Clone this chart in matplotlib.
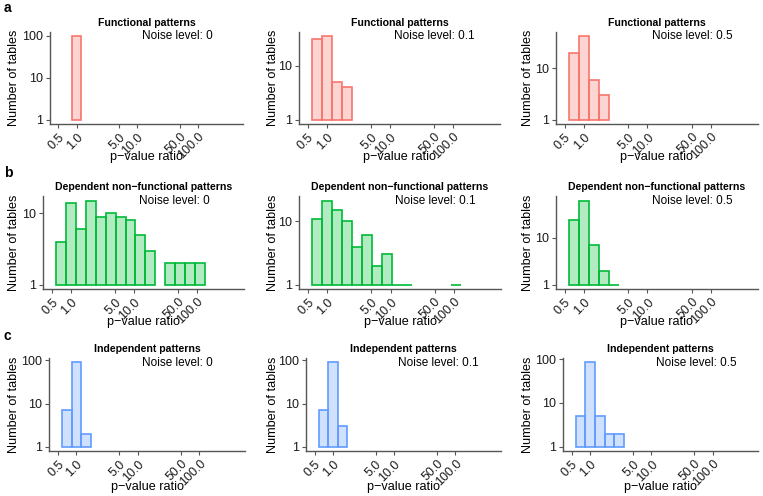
import matplotlib
matplotlib.use("Agg")
import matplotlib.pyplot as plt
import numpy as np

plt.rcParams['font.family'] = ['Liberation Sans', 'DejaVu Sans']

# histogram bins are equal steps in log10(p-value ratio), bin k is centred at k*bin_width
bin_width = 0.157

noise_levels = ["0", "0.1", "0.5"]
row_titles = ["Functional patterns", "Dependent non\u2212functional patterns", "Independent patterns"]
row_letters = ["a", "b", "c"]
row_colors = ["#F8766D", "#00BA38", "#619CFF"]

# first bin index and counts per bin (0 = empty bin)
func_first = [0, -1, -1]
func_counts = [[100],
               [32, 36, 5, 4],
               [20, 43, 6, 3]]

dep_first = [-1, -1, -1]
dep_counts = [[4, 14, 6, 15, 9, 10, 9, 8, 5, 3, 0, 2, 2, 2, 2],
              [11, 21, 15, 10, 4, 6, 2, 3, 1, 1, 0, 0, 0, 0, 1],
              [23, 60, 7, 2, 1]]

ind_first = [-1, -1, -1]
ind_counts = [[7, 90, 2],
              [7, 90, 3],
              [5, 85, 5, 2, 2]]

xticks = [0.5, 1, 5, 10, 50, 100]
xtick_labels = ["0.5", "1.0", "5.0", "10.0", "50.0", "100.0"]

firsts = [func_first, dep_first, ind_first]
counts = [func_counts, dep_counts, ind_counts]

W, H = 763, 496
fig = plt.figure(figsize=(W / 100, H / 100), dpi=100)

# panel boxes in pixels: (left, right) per column, (top, bottom) per row
cols = [[(50, 243), (299, 500), (556, 758)],
        [(43.3, 244), (299.3, 500.7), (556, 758)],
        [(49.3, 245), (306, 500.7), (563.3, 758)]]
rows = [(31.7, 124), (196.5, 289), (358, 451)]
ylab_x = [14, 272.7, 528.3]
xlab_off = [33, 33, 36]
letter_y = [8.5, 173, 336]

for r in range(3):
    top, bottom = rows[r]
    color = row_colors[r]
    fig.text(4 / W, 1 - letter_y[r] / H, row_letters[r], fontsize=10,
             fontweight='bold', ha='left', va='center')
    for c in range(3):
        left, right = cols[r][c]
        ax = fig.add_axes([left / W, 1 - bottom / H, (right - left) / W, (bottom - top) / H])
        n = np.array(counts[r][c], dtype=float)
        k = firsts[r][c] + np.arange(len(n))
        lo = 10 ** ((k - 0.5) * bin_width)
        hi = 10 ** ((k + 0.5) * bin_width)
        keep = n > 0
        ax.bar(lo[keep], n[keep] - 1, width=(hi - lo)[keep], bottom=1, align='edge',
               facecolor=matplotlib.colors.to_rgba(color, 0.3), edgecolor=color,
               linewidth=1.2)
        ax.set_xscale('log')
        ax.set_yscale('log')
        ax.set_xlim(10 ** -0.44, 10 ** 2.74)
        rng = np.log10(n.max())
        ytop = 10 ** (1.05 * rng)
        ax.set_ylim(10 ** (-0.05 * rng), ytop)
        yt = [t for t in [1, 10, 100] if t <= ytop]
        ax.set_yticks(yt)
        ax.set_yticklabels([str(t) for t in yt])
        ax.set_xticks(xticks)
        ax.set_xticklabels(xtick_labels, rotation=45, ha='right', va='top',
                           rotation_mode='anchor')
        ax.minorticks_off()
        for s in ['top', 'right']:
            ax.spines[s].set_visible(False)
        for s in ['left', 'bottom']:
            ax.spines[s].set_color('#555555')
            ax.spines[s].set_linewidth(1.0)
        ax.tick_params(axis='both', length=3, width=0.8, color='#555555',
                       labelsize=9, labelcolor='#1a1a1a', pad=2)
        ax.set_facecolor('none')

        ph = bottom - top
        pw = right - left
        ax.set_xlabel("p\u2212value ratio", fontsize=9.1, va='center')
        ax.xaxis.set_label_coords(0.5, -xlab_off[r] / ph)
        ax.set_ylabel("Number of tables", fontsize=9.1, va='center', ha='center')
        ax.yaxis.set_label_coords((ylab_x[c] - left) / pw, 0.5)

        ax.annotate(row_titles[r], xy=(0.5, 1), xycoords='axes fraction',
                    xytext=(0, 6), textcoords='offset pixels', ha='center',
                    va='baseline', fontsize=7.6, fontweight='bold')
        ax.annotate("Noise level: " + noise_levels[c], xy=(10 ** 1.07, 1),
                    xycoords=('data', 'axes fraction'), xytext=(0, -7.7),
                    textcoords='offset pixels', ha='left', va='baseline',
                    fontsize=8.5)

plt.savefig("out.png", dpi=100)
